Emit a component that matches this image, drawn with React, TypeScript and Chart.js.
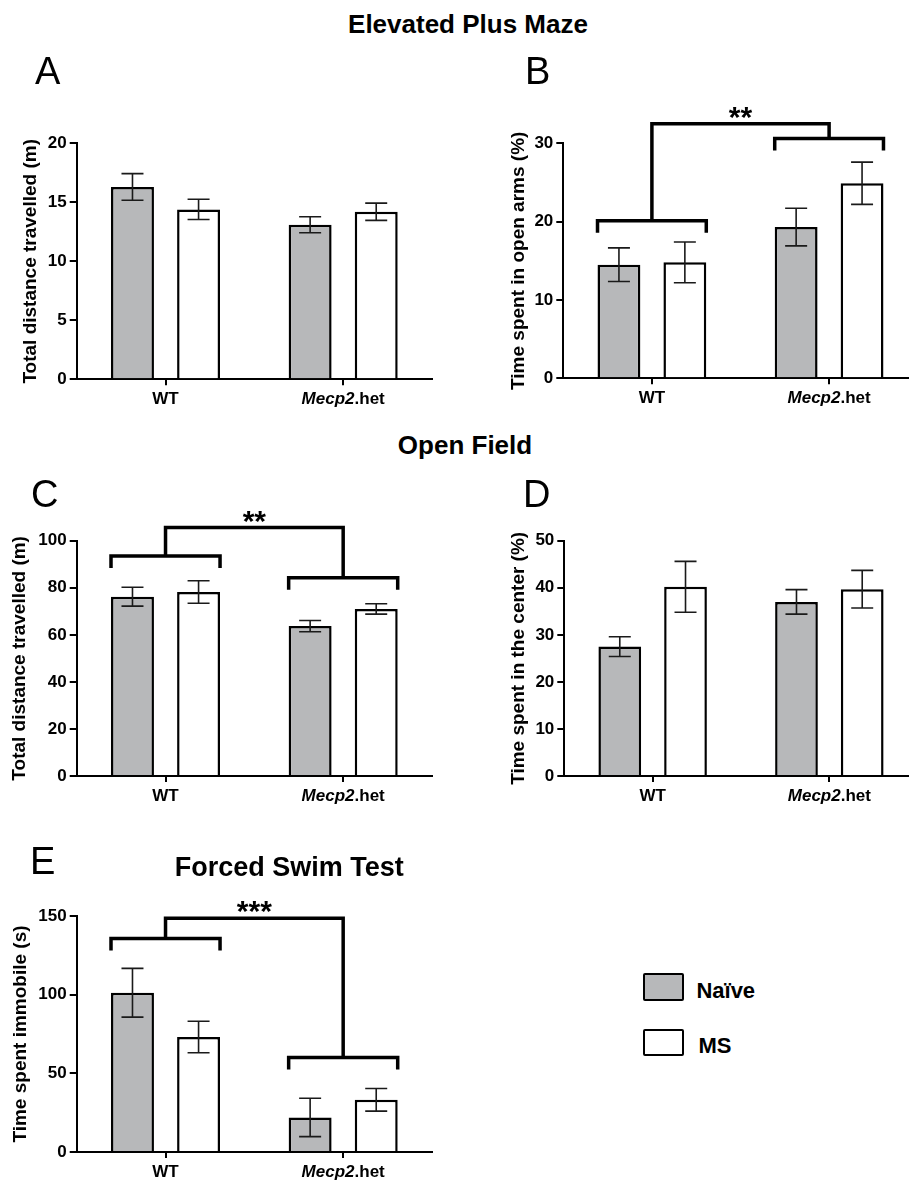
import React, { useEffect, useRef } from 'react';
import { Chart, registerables } from 'chart.js';

Chart.register(...registerables);

const FONT = "'Liberation Sans', Arial, Helvetica, sans-serif";

// ---------- data ----------
const categories = ['WT', 'Mecp2.het'];
const italicGene = 'Mecp2';
const seriesNames = ['Naïve', 'MS'];

// A: Elevated plus maze, total distance (m)
const epmDistNaive = [16.3, 13.1];
const epmDistNaiveErr = [1.13, 0.68];
const epmDistMs = [14.4, 14.2];
const epmDistMsErr = [0.86, 0.73];
const epmDistTicks = [0, 5, 10, 15, 20];

// B: Elevated plus maze, time in open arms (%)
const openArmsNaive = [14.5, 19.3];
const openArmsNaiveErr = [2.15, 2.4];
const openArmsMs = [14.8, 24.9];
const openArmsMsErr = [2.6, 2.7];
const openArmsTicks = [0, 10, 20, 30];
const openArmsGroupBrackets = [20.1, 30.6];
const openArmsTopBracket = 32.5;
const openArmsStars = '**';

// C: Open field, total distance (m)
const ofDistNaive = [76.2, 63.7];
const ofDistNaiveErr = [4.0, 2.4];
const ofDistMs = [78.2, 71.0];
const ofDistMsErr = [4.8, 2.2];
const ofDistTicks = [0, 20, 40, 60, 80, 100];
const ofDistGroupBrackets = [93.5, 84.3];
const ofDistTopBracket = 105.6;
const ofDistStars = '**';

// D: Open field, time in center (%)
const centerNaive = [27.5, 37.0];
const centerNaiveErr = [2.1, 2.6];
const centerMs = [40.2, 39.7];
const centerMsErr = [5.4, 4.0];
const centerTicks = [0, 10, 20, 30, 40, 50];

// E: Forced swim test, time immobile (s)
const immobileNaive = [101.2, 22.0];
const immobileNaiveErr = [15.5, 12.2];
const immobileMs = [73.1, 33.2];
const immobileMsErr = [10.0, 7.2];
const immobileTicks = [0, 50, 100, 150];
const immobileGroupBrackets = [135.7, 60.0];
const immobileTopBracket = 148.5;
const immobileStars = '***';

// ---------- plugins ----------
const errorBarPlugin = {
  id: 'errorBars',
  afterDatasetsDraw(chart: any) {
    const ctx = chart.ctx;
    const y = chart.scales.y;
    ctx.save();
    ctx.strokeStyle = '#1a1a1a';
    ctx.lineWidth = 1.6;
    chart.data.datasets.forEach((ds: any, i: number) => {
      const meta = chart.getDatasetMeta(i);
      meta.data.forEach((bar: any, j: number) => {
        const v = ds.data[j];
        const e = ds.errors[j];
        const x = bar.x;
        const yt = y.getPixelForValue(v + e);
        const yb = y.getPixelForValue(v - e);
        const cap = 11;
        ctx.beginPath();
        ctx.moveTo(x, yt);
        ctx.lineTo(x, yb);
        ctx.moveTo(x - cap, yt);
        ctx.lineTo(x + cap, yt);
        ctx.moveTo(x - cap, yb);
        ctx.lineTo(x + cap, yb);
        ctx.stroke();
      });
    });
    ctx.restore();
  },
};

const bracketPlugin = {
  id: 'brackets',
  afterDraw(chart: any, _args: any, opts: any) {
    if (!opts || !opts.groups) return;
    const ctx = chart.ctx;
    const y = chart.scales.y;
    const m0 = chart.getDatasetMeta(0);
    const m1 = chart.getDatasetMeta(1);
    const leg = 12;
    const centers: number[] = [];
    const levels: number[] = [];
    ctx.save();
    ctx.strokeStyle = '#000';
    ctx.lineWidth = 3.5;
    ctx.lineJoin = 'miter';
    for (let j = 0; j < opts.groups.length; j++) {
      const b0 = m0.data[j];
      const b1 = m1.data[j];
      const left = b0.x - b0.width / 2;
      const right = b1.x + b1.width / 2;
      const yl = y.getPixelForValue(opts.groups[j]);
      ctx.beginPath();
      ctx.moveTo(left, yl + leg);
      ctx.lineTo(left, yl);
      ctx.lineTo(right, yl);
      ctx.lineTo(right, yl + leg);
      ctx.stroke();
      centers.push((left + right) / 2);
      levels.push(yl);
    }
    const yt = y.getPixelForValue(opts.top);
    ctx.beginPath();
    ctx.moveTo(centers[0], levels[0]);
    ctx.lineTo(centers[0], yt);
    ctx.lineTo(centers[1], yt);
    ctx.lineTo(centers[1], levels[1]);
    ctx.stroke();
    ctx.fillStyle = '#000';
    ctx.font = `bold 30px ${FONT}`;
    ctx.textAlign = 'center';
    ctx.textBaseline = 'alphabetic';
    ctx.fillText(opts.label, (centers[0] + centers[1]) / 2, yt + 3);
    ctx.restore();
  },
};

const categoryLabelPlugin = {
  id: 'catLabels',
  afterDraw(chart: any) {
    const ctx = chart.ctx;
    const x = chart.scales.x;
    const base = chart.chartArea.bottom + 25;
    ctx.save();
    ctx.fillStyle = '#000';
    ctx.textBaseline = 'alphabetic';
    ctx.textAlign = 'left';
    categories.forEach((label, i) => {
      const parts: { t: string; it: boolean }[] = label.startsWith(italicGene)
        ? [
            { t: italicGene, it: true },
            { t: label.slice(italicGene.length), it: false },
          ]
        : [{ t: label, it: false }];
      let total = 0;
      const widths = parts.map((p) => {
        ctx.font = `${p.it ? 'italic ' : ''}bold 17px ${FONT}`;
        const w = ctx.measureText(p.t).width;
        total += w;
        return w;
      });
      let cx = x.getPixelForValue(i) - total / 2;
      parts.forEach((p, k) => {
        ctx.font = `${p.it ? 'italic ' : ''}bold 17px ${FONT}`;
        ctx.fillText(p.t, cx, base);
        cx += widths[k];
      });
    });
    ctx.restore();
  },
};

// ---------- panel layout ----------
type Box = { x: number; y: number; w: number; h: number };
type Area = { l: number; t: number; r: number; b: number };

interface PanelDef {
  canvas: Box;
  area: Area;
  titleCenterX: number;
  yTitle: string;
  ticks: number[];
  naive: number[];
  naiveErr: number[];
  ms: number[];
  msErr: number[];
  brackets?: { groups: number[]; top: number; label: string };
}

const panels: PanelDef[] = [
  {
    canvas: { x: 0, y: 80, w: 450, h: 340 },
    area: { l: 76.7, t: 143.3, r: 432, b: 379.3 },
    titleCenterX: 31,
    yTitle: 'Total distance travelled (m)',
    ticks: epmDistTicks,
    naive: epmDistNaive,
    naiveErr: epmDistNaiveErr,
    ms: epmDistMs,
    msErr: epmDistMsErr,
  },
  {
    canvas: { x: 450, y: 80, w: 470, h: 340 },
    area: { l: 563.3, t: 143.3, r: 917.7, b: 378.3 },
    titleCenterX: 519.2,
    yTitle: 'Time spent in open arms (%)',
    ticks: openArmsTicks,
    naive: openArmsNaive,
    naiveErr: openArmsNaiveErr,
    ms: openArmsMs,
    msErr: openArmsMsErr,
    brackets: { groups: openArmsGroupBrackets, top: openArmsTopBracket, label: openArmsStars },
  },
  {
    canvas: { x: 0, y: 470, w: 450, h: 340 },
    area: { l: 76.7, t: 540.7, r: 432, b: 776 },
    titleCenterX: 20,
    yTitle: 'Total distance travelled (m)',
    ticks: ofDistTicks,
    naive: ofDistNaive,
    naiveErr: ofDistNaiveErr,
    ms: ofDistMs,
    msErr: ofDistMsErr,
    brackets: { groups: ofDistGroupBrackets, top: ofDistTopBracket, label: ofDistStars },
  },
  {
    canvas: { x: 450, y: 470, w: 470, h: 340 },
    area: { l: 564.3, t: 540.7, r: 917.7, b: 776 },
    titleCenterX: 518.7,
    yTitle: 'Time spent in the center (%)',
    ticks: centerTicks,
    naive: centerNaive,
    naiveErr: centerNaiveErr,
    ms: centerMs,
    msErr: centerMsErr,
  },
  {
    canvas: { x: 0, y: 880, w: 450, h: 302 },
    area: { l: 76.7, t: 916, r: 432, b: 1152 },
    titleCenterX: 20.8,
    yTitle: 'Time spent immobile (s)',
    ticks: immobileTicks,
    naive: immobileNaive,
    naiveErr: immobileNaiveErr,
    ms: immobileMs,
    msErr: immobileMsErr,
    brackets: { groups: immobileGroupBrackets, top: immobileTopBracket, label: immobileStars },
  },
];

const NAIVE_FILL = '#b7b8ba';

function BarPanel({ def }: { def: PanelDef }) {
  const ref = useRef<HTMLCanvasElement | null>(null);
  useEffect(() => {
    const { canvas, area } = def;
    const yW = area.l - canvas.x;
    const padTop = area.t - canvas.y;
    const padRight = canvas.x + canvas.w - area.r;
    const xH = canvas.y + canvas.h - area.b;
    const titleSize = 19;
    const titlePad = def.titleCenterX - canvas.x - (titleSize * 1.2) / 2;
    const yMax = def.ticks[def.ticks.length - 1];
    const chart = new Chart(ref.current as HTMLCanvasElement, {
      type: 'bar',
      data: {
        labels: categories,
        datasets: [
          {
            label: seriesNames[0],
            data: def.naive,
            errors: def.naiveErr,
            backgroundColor: NAIVE_FILL,
            borderColor: '#000',
            borderWidth: 2.5,
            categoryPercentage: 0.744,
            barPercentage: 0.65,
          } as any,
          {
            label: seriesNames[1],
            data: def.ms,
            errors: def.msErr,
            backgroundColor: '#ffffff',
            borderColor: '#000',
            borderWidth: 2.5,
            categoryPercentage: 0.744,
            barPercentage: 0.65,
          } as any,
        ],
      },
      options: {
        responsive: false,
        maintainAspectRatio: false,
        devicePixelRatio: 1,
        animation: false,
        layout: { padding: { top: padTop, right: padRight, left: 0, bottom: 0 } },
        plugins: {
          legend: { display: false },
          tooltip: { enabled: false },
          brackets: def.brackets ? { ...def.brackets } : {},
        } as any,
        scales: {
          x: {
            type: 'category',
            offset: true,
            ticks: { display: false },
            grid: {
              display: true,
              offset: false,
              drawOnChartArea: false,
              drawTicks: true,
              tickLength: 6,
              color: '#000',
              lineWidth: 2,
            },
            border: { display: true, color: '#000', width: 2 },
            afterFit: (s: any) => {
              s.height = xH;
            },
          },
          y: {
            min: 0,
            max: yMax,
            afterBuildTicks: (s: any) => {
              s.ticks = def.ticks.map((v) => ({ value: v }));
            },
            ticks: {
              color: '#000',
              padding: 3,
              font: { family: FONT, size: 17, weight: 'bold' },
            },
            grid: {
              display: true,
              drawOnChartArea: false,
              drawTicks: true,
              tickLength: 7,
              color: '#000',
              lineWidth: 2,
            },
            border: { display: true, color: '#000', width: 2 },
            title: {
              display: true,
              text: def.yTitle,
              color: '#000',
              font: { family: FONT, size: titleSize, weight: 'bold' },
              padding: { top: titlePad, bottom: 0 },
            },
            afterFit: (s: any) => {
              s.width = yW;
            },
          },
        } as any,
      },
      plugins: [errorBarPlugin, bracketPlugin, categoryLabelPlugin],
    } as any);
    return () => chart.destroy();
  }, [def]);
  return (
    <canvas
      ref={ref}
      width={def.canvas.w}
      height={def.canvas.h}
      style={{
        position: 'absolute',
        left: def.canvas.x,
        top: def.canvas.y,
        width: def.canvas.w,
        height: def.canvas.h,
      }}
    />
  );
}

const textBase: React.CSSProperties = {
  position: 'absolute',
  fontFamily: FONT,
  lineHeight: 1,
  whiteSpace: 'nowrap',
  color: '#000',
  margin: 0,
};

function Title({ text, cx, top, size }: { text: string; cx: number; top: number; size: number }) {
  return (
    <div style={{ ...textBase, left: cx, top, fontSize: size, fontWeight: 'bold', transform: 'translateX(-50%)' }}>
      {text}
    </div>
  );
}

function Letter({ text, left, top }: { text: string; left: number; top: number }) {
  return <div style={{ ...textBase, left, top, fontSize: 38, fontWeight: 'normal' }}>{text}</div>;
}

export default function App() {
  return (
    <div
      style={{
        position: 'absolute',
        left: 0,
        top: 0,
        width: 909,
        height: 1182,
        overflow: 'hidden',
        background: '#fff',
      }}
    >
      {panels.map((p, i) => (
        <BarPanel key={i} def={p} />
      ))}
      <Title text="Elevated Plus Maze" cx={468} top={10.6} size={26} />
      <Title text="Open Field" cx={465} top={432.3} size={26} />
      <Title text="Forced Swim Test" cx={289.3} top={854} size={27} />
      <Letter text="A" left={35} top={51.5} />
      <Letter text="B" left={525} top={52} />
      <Letter text="C" left={31} top={474.5} />
      <Letter text="D" left={523} top={475} />
      <Letter text="E" left={30} top={842} />
      {/* legend */}
      <div
        style={{
          position: 'absolute',
          left: 643.3,
          top: 973.3,
          width: 40.7,
          height: 28,
          boxSizing: 'border-box',
          border: '2.5px solid #000',
          borderRadius: 2,
          background: NAIVE_FILL,
        }}
      />
      <div style={{ ...textBase, left: 696.4, top: 980, fontSize: 22, fontWeight: 'bold' }}>{seriesNames[0]}</div>
      <div
        style={{
          position: 'absolute',
          left: 643.3,
          top: 1029.3,
          width: 40.7,
          height: 26.4,
          boxSizing: 'border-box',
          border: '2.5px solid #000',
          borderRadius: 2,
          background: '#fff',
        }}
      />
      <div style={{ ...textBase, left: 698.4, top: 1035.3, fontSize: 22, fontWeight: 'bold' }}>{seriesNames[1]}</div>
    </div>
  );
}
